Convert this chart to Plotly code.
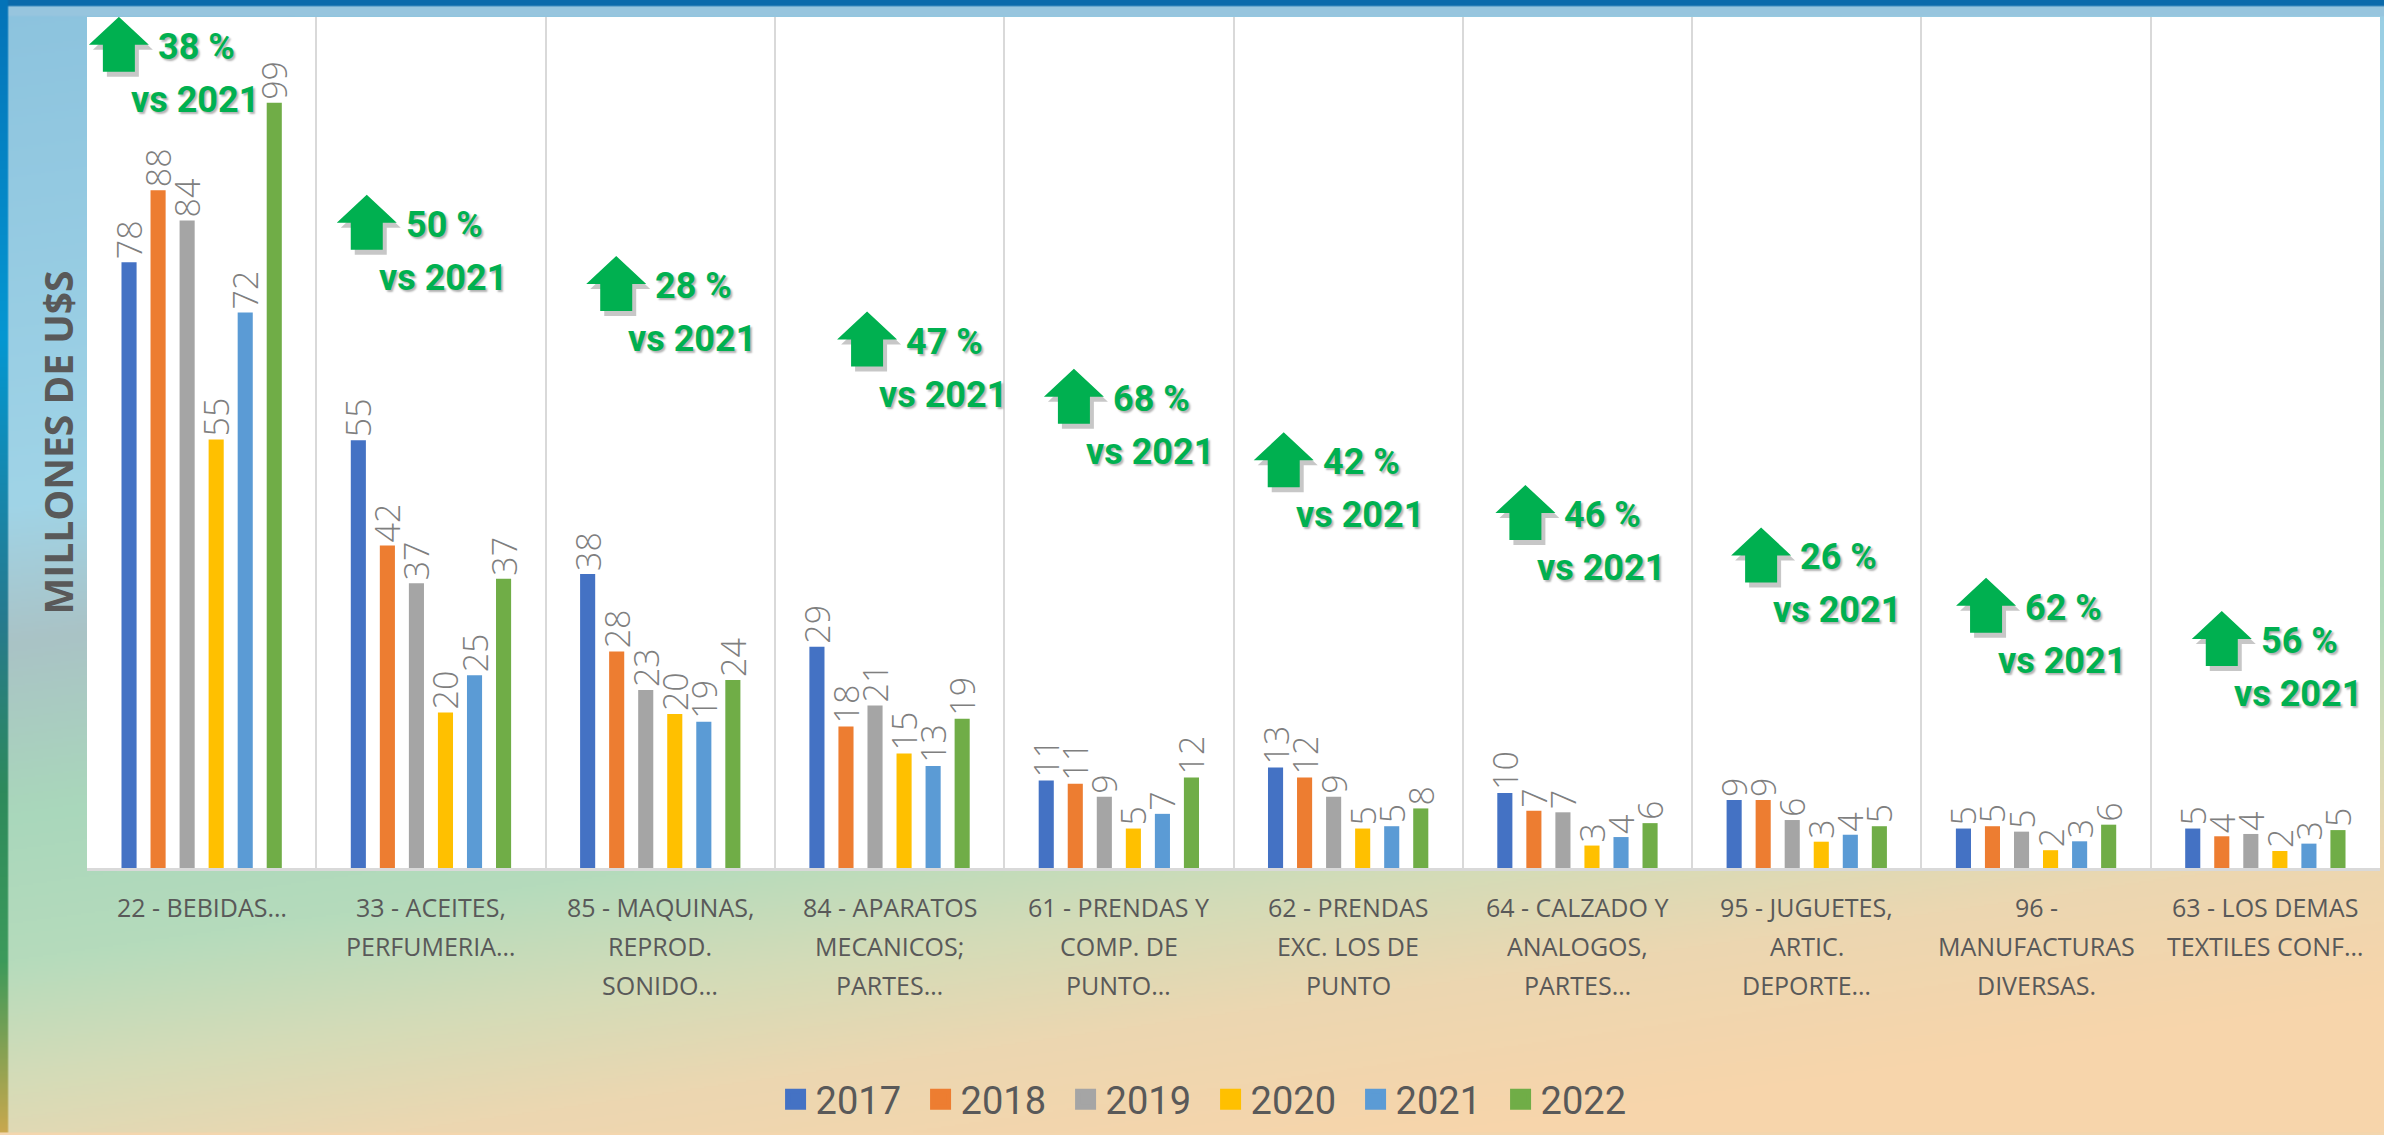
import base64, struct, zlib
import numpy as np
import plotly.graph_objects as go

# ---------------- data ----------------
categories = [
    "22 - BEBIDAS…",
    "33 - ACEITES,\nPERFUMERIA…",
    "85 - MAQUINAS,\nREPROD.\nSONIDO…",
    "84 - APARATOS\nMECANICOS;\nPARTES…",
    "61 - PRENDAS Y\nCOMP. DE\nPUNTO…",
    "62 - PRENDAS\nEXC. LOS DE\nPUNTO",
    "64 - CALZADO Y\nANALOGOS,\nPARTES…",
    "95 - JUGUETES,\nARTIC.\nDEPORTE…",
    "96 -\nMANUFACTURAS\nDIVERSAS.",
    "63 - LOS DEMAS\nTEXTILES CONF…",
]
years = ["2017", "2018", "2019", "2020", "2021", "2022"]
v2017 = [78.3, 55.3, 38.0, 28.6, 11.3, 13.0, 9.7, 8.8, 5.1, 5.1]
v2018 = [87.6, 41.7, 28.0, 18.3, 10.9, 11.7, 7.4, 8.8, 5.4, 4.1]
v2019 = [83.7, 36.8, 23.0, 21.0, 9.2, 9.2, 7.2, 6.2, 4.7, 4.4]
v2020 = [55.4, 20.1, 19.9, 14.8, 5.1, 5.1, 2.9, 3.4, 2.3, 2.2]
v2021 = [71.8, 24.9, 18.9, 13.2, 7.0, 5.4, 4.0, 4.3, 3.45, 3.15]
v2022 = [98.9, 37.4, 24.3, 19.3, 11.7, 7.7, 5.8, 5.4, 5.6, 4.9]
growth_vs_2021 = [38, 50, 28, 47, 68, 42, 46, 26, 62, 56]
series = [v2017, v2018, v2019, v2020, v2021, v2022]

# ---------------- styles / layout ----------------
colors = ["#4472C4", "#ED7D31", "#A5A5A5", "#FFC000", "#5B9BD5", "#70AD47"]
W, H = 2384, 1135
L, R, T, B = 87, 4, 17, 262
PW, PH = W - L - R, H - T - B
GREEN = "#00B050"
TXT = "#595959"
# badge placement (arrow centre) in axis units
badge_dx = [-0.361, -0.280, -0.192, -0.098, -0.196, -0.281, -0.227, -0.199, -0.218, -0.190]
badge_y = [106.4, 83.4, 75.5, 68.3, 60.9, 52.7, 45.9, 40.4, 33.9, 29.6]

# ---------------- background image (gradient) ----------------
def make_png(arr):
    h, w, _ = arr.shape
    flat = arr.reshape(h, w * 3).astype(np.int16)
    sub = flat.copy()
    sub[:, 3:] = (flat[:, 3:] - flat[:, :-3]) % 256
    raw = np.zeros((h, 1 + w * 3), dtype=np.uint8)
    raw[:, 0] = 1
    raw[:, 1:] = sub.astype(np.uint8)

    def chunk(tag, data):
        c = struct.pack(">I", len(data)) + tag + data
        return c + struct.pack(">I", zlib.crc32(tag + data) & 0xFFFFFFFF)

    ihdr = struct.pack(">IIBBBBB", w, h, 8, 2, 0, 0, 0)
    return (b"\x89PNG\r\n\x1a\n" + chunk(b"IHDR", ihdr)
            + chunk(b"IDAT", zlib.compress(raw.tobytes(), 9)) + chunk(b"IEND", b""))

def hex2rgb(h):
    h = h.lstrip("#")
    return [int(h[i:i + 2], 16) for i in (0, 2, 4)]

def ramp(s, stops):
    pos = np.array([p for p, _ in stops])
    cols = np.array([hex2rgb(c) for _, c in stops], dtype=float)
    out = np.zeros(s.shape + (3,))
    for k in range(3):
        out[..., k] = np.interp(s, pos, cols[:, k])
    return out

iw, ih = W // 2, H // 2
u = np.linspace(0, 1, iw)[None, :].repeat(ih, 0)
v = np.linspace(0, 1, ih)[:, None].repeat(iw, 1)
s = v + 0.3 * u
img = ramp(s, [(0.0, "#8cc3de"), (0.45, "#a0d4e7"), (0.57, "#aac3c6"), (0.72, "#a9d7bb"),
               (0.85, "#b5dbbc"), (0.95, "#d3dcb8"), (1.05, "#ecd7b1"), (1.18, "#f7d5ab")])
band = (np.arange(ih) * 2 < T)
img[band, :, :] = np.array(hex2rgb("#97c5de"))
img[: 4, :, :] = np.array(hex2rgb("#0b6aab"))
strip = ramp(np.linspace(0, 1, ih), [(0.0, "#0573b8"), (0.3, "#0497d2"), (0.55, "#277a8e"),
                                     (0.7, "#2e8a5c"), (0.85, "#3c9a5a"), (1.0, "#c8a84e")])
img[:, :5, :] = strip[:, None, :]
img = np.clip(img, 0, 255).astype(np.uint8)
bg_src = "data:image/png;base64," + base64.b64encode(make_png(img)).decode()

# ---------------- figure ----------------
fig = go.Figure()
x_idx = list(range(len(categories)))
for yr, vals, col in zip(years, series, colors):
    fig.add_trace(go.Bar(
        x=x_idx, y=vals, name=yr, marker=dict(color=col, line=dict(width=0)),
        texttemplate="%{y:.0f}", textposition="outside", textangle=-90,
        constraintext="none", cliponaxis=False,
        textfont=dict(family="Open Sans", size=34, color="#7f7f7f", weight=300),
        showlegend=False, hoverinfo="x+y",
    ))
# legend entries
for yr, col in zip(years, colors):
    fig.add_trace(go.Scatter(
        x=[None], y=[None], mode="markers", name=yr,
        marker=dict(symbol="square", size=16, color=col, line=dict(width=5, color=col)),
        showlegend=True,
    ))

shapes = [dict(type="rect", xref="paper", yref="paper", x0=0, x1=1, y0=0, y1=1,
               fillcolor="white", line=dict(width=0), layer="below")]

def arrow_path(ox=0, oy=0):
    pts = [(0, 28), (30, 0), (16, 0), (16, -27), (-16, -27), (-16, 0), (-30, 0)]
    return "M" + " L".join(f"{px + ox},{py + oy}" for px, py in pts) + " Z"

annotations = []
for i, g in enumerate(growth_vs_2021):
    xa = i + badge_dx[i]
    ya = badge_y[i]
    shapes.append(dict(type="path", xref="x", yref="y", xsizemode="pixel", ysizemode="pixel",
                       xanchor=xa, yanchor=ya, path=arrow_path(4, -5),
                       fillcolor="rgba(0,0,0,0.22)", line=dict(width=0)))
    shapes.append(dict(type="path", xref="x", yref="y", xsizemode="pixel", ysizemode="pixel",
                       xanchor=xa, yanchor=ya, path=arrow_path(),
                       fillcolor=GREEN, line=dict(width=0)))
    annotations.append(dict(x=xa, y=ya, xref="x", yref="y", text=f"{g} %", showarrow=False,
                            xanchor="left", yanchor="middle", xshift=37, yshift=-2,
                            font=dict(family="Roboto", size=36, color=GREEN, weight="bold",
                                      shadow="2px 2px 2px rgba(0,0,0,0.3)")))
    annotations.append(dict(x=xa, y=ya, xref="x", yref="y", text="vs 2021", showarrow=False,
                            xanchor="right", yanchor="middle", xshift=142, yshift=-55,
                            font=dict(family="Roboto", size=36, color=GREEN, weight="bold",
                                      shadow="2px 2px 2px rgba(0,0,0,0.3)")))

for i, lab in enumerate(categories):
    for k, line in enumerate(lab.split("\n")):
        annotations.append(dict(x=i, y=0, xref="x", yref="paper", text=line, showarrow=False,
                                xanchor="center", yanchor="middle", yshift=-(39 + 39 * k),
                                font=dict(family="Open Sans", size=25, color=TXT)))

fig.update_layout(
    width=W, height=H,
    margin=dict(l=L, r=R, t=T, b=B, pad=0),
    paper_bgcolor="#f3d6ae",
    plot_bgcolor="rgba(0,0,0,0)",
    barmode="group", bargap=0.24, bargroupgap=0.48,
    images=[dict(source=bg_src, xref="paper", yref="paper", x=-(L + 2) / PW, y=1 + (T + 2) / PH,
                 sizex=(W + 4) / PW, sizey=(H + 6) / PH, xanchor="left", yanchor="top",
                 sizing="stretch", layer="below")],
    shapes=shapes,
    annotations=annotations,
    xaxis=dict(range=[-0.5, len(categories) - 0.5], tickvals=[i + 0.5 for i in range(len(categories) - 1)],
               showticklabels=False, ticks="", showgrid=True, gridcolor="#d9d9d9", gridwidth=2,
               zeroline=False, showline=True, linecolor="#d9d9d9", linewidth=3, fixedrange=True),
    yaxis=dict(range=[0, 110], showticklabels=False, ticks="", showgrid=False, zeroline=False,
               showline=False, automargin=False, fixedrange=True,
               title=dict(text="MILLONES DE U$S", standoff=0,
                          font=dict(family="Open Sans", size=39, color=TXT, weight="bold"))),
    legend=dict(orientation="h", x=0.49, xanchor="center", y=-0.272, yanchor="middle",
                font=dict(family="Roboto", size=38, color=TXT), bgcolor="rgba(0,0,0,0)",
                itemwidth=30, entrywidth=100, entrywidthmode="pixels"),
    showlegend=True,
)

fig.write_html("out.html", config={"displayModeBar": False},
               post_script="document.body.style.margin='0';document.body.style.overflow='hidden';")
